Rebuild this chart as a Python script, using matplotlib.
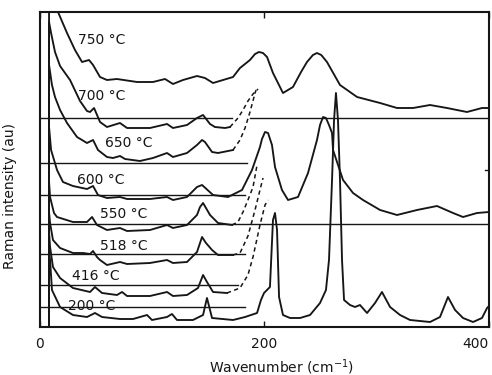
import matplotlib
matplotlib.use('Agg')
import matplotlib.pyplot as plt

# Raman spectra: wavenumber (cm-1) and intensity (arb. units, stacked)
wn_750 = [8.5, 8.5, 16.5, 24.5, 31.6, 37.9, 44.1, 47.7, 53.9, 60.1, 69.0, 86.9, 101.1, 111.8,
          118.9, 127.8, 140.3, 147.4, 154.6, 163.5, 172.4, 178.6, 187.5, 192.0, 195.5, 199.1,
          202.7, 208.0, 216.9, 225.8, 233.0, 238.3, 243.6, 247.2, 251.0, 256.1, 267.7, 282.9,
          303.4, 318.5, 332.8, 347.9, 363.0, 380.8, 394.2, 400.4]
int_750 = [0, 340, 315, 294, 277, 265, 267, 262, 250, 247, 248, 245, 245, 248,
           243, 247, 251, 249, 244, 247, 250, 259, 267, 273, 275, 274,
           270, 254, 234, 240, 255, 265, 272, 274, 272, 265, 242, 230,
           224, 219, 219, 222, 219, 215, 219, 219]

wn_700 = [8.5, 8.5, 10.3, 13.8, 18.3, 27.2, 36.1, 42.3, 45.0, 48.6, 53.9, 60.1, 71.7, 78.0,
          98.4, 113.6, 118.9, 131.4, 140.3, 145.7, 151.9, 156.3, 165.3, 169.7]
int_700 = [0, 305, 294, 275, 261, 247, 226, 216, 215, 219, 205, 200, 204, 199,
           199, 203, 199, 202, 209, 212, 203, 200, 199, 200]
wn_700_dash = [169.7, 176.8, 181.3, 185.7, 190.2, 194.7]
int_700_dash = [200, 209, 217, 226, 233, 238]

wn_650 = [8.5, 8.5, 11.1, 13.8, 18.3, 24.5, 33.4, 42.3, 47.7, 52.1, 60.1, 65.5, 71.7, 76.2,
          89.5, 101.1, 113.6, 118.9, 131.4, 140.3, 144.8, 147.4, 153.7, 159.0, 172.4]
int_650 = [0, 262, 242, 230, 217, 204, 190, 184, 187, 177, 170, 169, 171, 168,
           166, 169, 174, 170, 174, 182, 187, 185, 175, 174, 177]
wn_650_dash = [172.4, 178.6, 183.1, 187.5, 191.1, 192.9]
int_650_dash = [177, 187, 199, 215, 230, 237]

wn_600 = [8.5, 8.5, 10.3, 15.6, 20.9, 29.8, 42.3, 47.7, 52.1, 60.1, 71.7, 78.0, 98.4, 113.6,
          118.9, 131.4, 140.3, 144.8, 154.6, 167.9, 180.4, 189.3, 196.4, 198.2, 200.9, 203.6,
          207.1, 209.8, 216.0, 221.4, 230.3, 239.2, 247.2, 249.9, 252.6, 255.2, 257.9, 260.6,
          261.5, 270.4, 279.3, 288.2, 303.4, 318.5, 336.3, 354.1, 368.4, 377.3, 389.8, 400.4]
int_600 = [0, 200, 177, 157, 145, 141, 138, 141, 132, 129, 130, 128, 128, 130,
           127, 130, 140, 142, 132, 130, 137, 157, 180, 188, 195, 194,
           182, 160, 137, 127, 130, 154, 187, 202, 210, 209, 202, 194,
           177, 147, 134, 127, 117, 112, 117, 121, 114, 110, 114, 115]

wn_550 = [8.5, 8.5, 9.4, 12.9, 15.6, 29.8, 42.3, 46.8, 51.2, 60.1, 71.7, 78.0, 98.4, 113.6,
          118.9, 131.4, 140.3, 143.0, 145.7, 148.3, 151.9, 153.7, 159.0, 171.5]
int_550 = [0, 145, 130, 114, 110, 105, 105, 110, 102, 97, 99, 96, 97, 102,
           99, 102, 112, 120, 124, 119, 112, 110, 104, 102]
wn_550_dash = [171.5, 176.8, 181.3, 185.7, 190.2, 193.8]
int_550_dash = [102, 105, 115, 127, 140, 162]

wn_518 = [8.5, 8.5, 9.4, 12.0, 18.3, 29.8, 38.8, 45.0, 47.7, 51.2, 53.9, 60.1, 71.7, 78.0,
          98.4, 113.6, 118.9, 131.4, 140.3, 144.8, 148.3, 153.7, 159.0, 172.4]
int_518 = [0, 115, 104, 87, 79, 74, 74, 73, 76, 70, 67, 62, 65, 63,
           64, 67, 64, 65, 75, 90, 84, 77, 72, 72]
wn_518_dash = [172.4, 178.6, 185.7, 192.0, 196.4, 199.1]
int_518_dash = [72, 74, 91, 117, 137, 149]

wn_416 = [8.5, 8.5, 9.4, 12.0, 18.3, 29.8, 45.0, 49.4, 55.7, 69.0, 73.5, 78.0, 98.4, 113.6,
          118.9, 131.4, 141.2, 145.7, 149.2, 154.6, 167.0]
int_416 = [0, 95, 80, 60, 49, 39, 35, 40, 34, 32, 35, 31, 31, 35,
           31, 32, 39, 52, 45, 35, 34]
wn_416_dash = [167.0, 178.6, 185.7, 190.2, 196.4, 200.9, 203.6]
int_416_dash = [34, 39, 52, 70, 102, 122, 127]

wn_200 = [8.5, 8.5, 9.4, 11.1, 18.3, 29.8, 42.3, 49.4, 55.7, 71.7, 83.3, 95.8, 100.2, 113.6,
          118.0, 122.5, 136.7, 145.7, 149.2, 151.9, 153.7, 172.4, 183.1, 193.8, 197.3, 200.0,
          205.3, 208.0, 209.8, 211.6, 213.4, 216.9, 223.2, 232.1, 241.0, 249.9, 255.2, 257.9,
          260.6, 262.4, 264.1, 265.9, 267.7, 269.5, 271.3, 276.6, 281.1, 285.5, 291.8, 298.9,
          305.1, 312.3, 321.2, 330.1, 347.9, 356.8, 363.9, 370.2, 377.3, 386.2, 394.2, 398.7,
          401.3]
int_200 = [0, 75, 67, 37, 20, 12, 10, 14, 10, 8, 8, 12, 7, 10,
           13, 7, 7, 12, 29, 17, 9, 7, 10, 14, 27, 34,
           40, 107, 114, 97, 30, 12, 9, 9, 12, 24, 37, 67,
           147, 207, 234, 207, 147, 67, 27, 22, 20, 22, 14, 24,
           35, 20, 12, 7, 5, 10, 30, 17, 9, 5, 9, 19,
           22]

# horizontal reference lines: level, start and end wavenumber
base_level = [209, 209, 164, 132, 103, 73, 42, 20, 157]
base_start = [0, 187.5, 0, 0, 0, 0, 0, 0, 396.9]
base_end = [171.5, 400, 184.9, 183, 400, 183, 176.8, 183, 400]

temps = ['750 °C', '700 °C', '650 °C', '600 °C', '550 °C', '518 °C', '416 °C', '200 °C']
label_xy = [(34.3, 287), (34.3, 231), (58.4, 184), (33.4, 147),
            (53.9, 113), (53.9, 81), (29.0, 51), (25.4, 21)]

ink = '#161616'
fig = plt.figure(figsize=(4.92, 3.75), dpi=100)
ax = fig.add_axes([0.0803, 0.128, 0.9126, 0.84])

for lev, x0, x1 in zip(base_level, base_start, base_end):
    ax.plot([x0, x1], [lev, lev], color=ink, lw=1.0)

solid = [(wn_750, int_750), (wn_700, int_700), (wn_650, int_650), (wn_600, int_600),
         (wn_550, int_550), (wn_518, int_518), (wn_416, int_416), (wn_200, int_200)]
for x, y in solid:
    ax.plot(x, y, color=ink, lw=1.35, solid_joinstyle='round')

dashed = [(wn_700_dash, int_700_dash), (wn_650_dash, int_650_dash),
          (wn_550_dash, int_550_dash), (wn_518_dash, int_518_dash),
          (wn_416_dash, int_416_dash)]
for x, y in dashed:
    ax.plot(x, y, color=ink, lw=1.1, linestyle=(0, (2.8, 2.2)))

for t, (tx, ty) in zip(temps, label_xy):
    ax.text(tx, ty, t, fontsize=10, color=ink, ha='left', va='center')

ax.set_xlim(0, 400)
ax.set_ylim(0, 315)
ax.set_yticks([])
ax.set_xticks([0, 200, 400])
ax.set_xticklabels(['0', '200', '400'], fontsize=10, color=ink)
ax.get_xticklabels()[-1].set_ha('right')
ax.tick_params(axis='x', direction='in', length=4, width=1, top=True, pad=7, colors=ink)
for s in ax.spines.values():
    s.set_linewidth(1.5)
    s.set_color(ink)

ax.set_xlabel('Wavenumber (cm$^{-1}$)', fontsize=10, color=ink)
ax.xaxis.set_label_coords(0.54, -0.095)
ax.set_ylabel('Raman intensity (au)', fontsize=10, color=ink)
ax.yaxis.set_label_coords(-0.05, 0.416)

fig.savefig('out.png', dpi=100)
